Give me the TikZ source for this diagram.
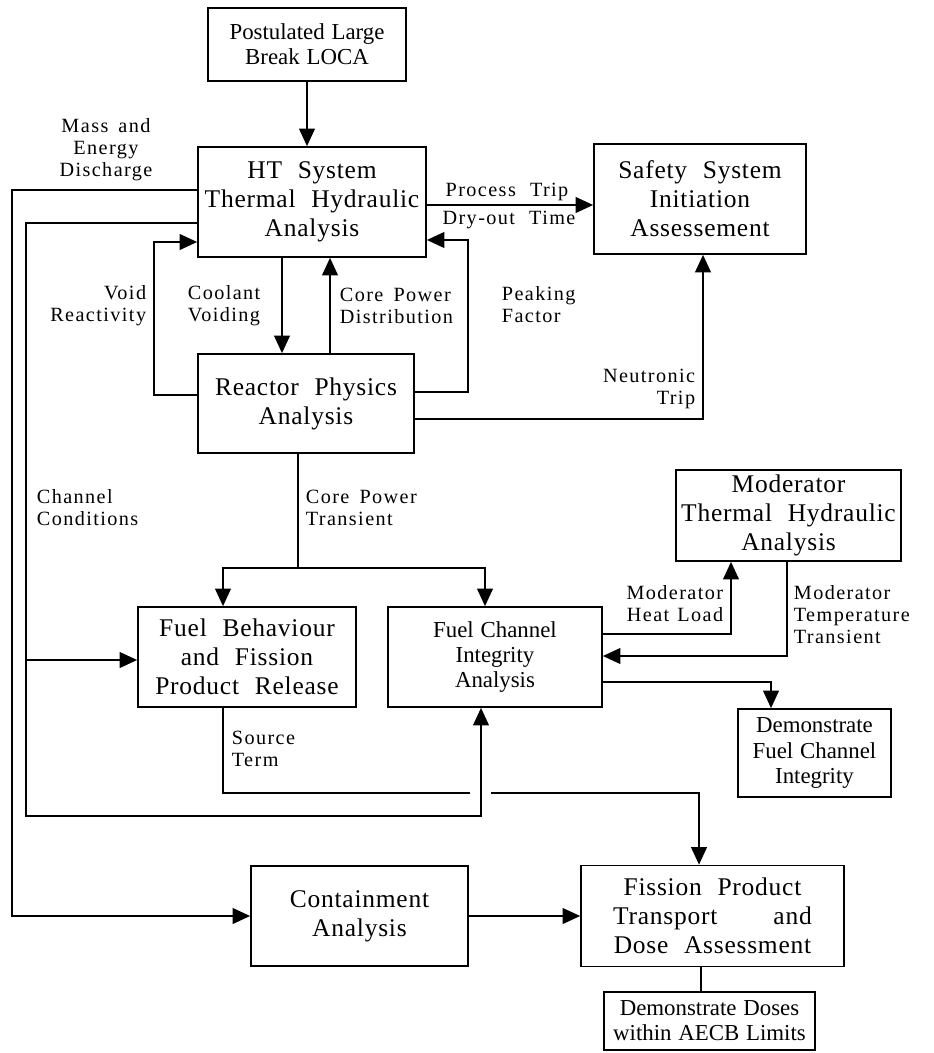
\documentclass[tikz,border=0pt]{standalone}
\usepackage{fontspec}
\setmainfont{Liberation Serif}
\newfontfamily\labfont[LetterSpace=7]{Liberation Serif}
\newfontfamily\bigfont[WordSpace=2.2,LetterSpace=3]{Liberation Serif}
\newfontfamily\midfont[WordSpace=1.2]{Liberation Serif}
\usetikzlibrary{arrows.meta}
\begin{document}
\begin{tikzpicture}[x=0.02cm,y=-0.02cm,line width=1pt,
  box/.style={draw,line width=1pt,inner sep=0pt,align=center},
  bigbox/.style={box,font=\bigfont\fontsize{14.5}{16.5}\selectfont},
  smallbox/.style={box,font=\midfont\fontsize{13}{14.3}\selectfont},
  lab/.style={inner sep=0pt,font=\labfont\fontsize{11.5}{12.5}\selectfont},
  arr/.style={-{Triangle[length=10pt,width=9pt]}}]
\useasboundingbox (0,0) rectangle (933,1053);
% boxes
\node[smallbox,minimum width=3.96cm,minimum height=1.46cm] (loca) at (307,44.5) {Postulated Large\\Break LOCA};
\node[bigbox,minimum width=4.56cm,minimum height=2.2cm] (ht) at (312,202) {HT System\\Thermal Hydraulic\\Analysis};
\node[bigbox,minimum width=4.24cm,minimum height=2.2cm] (safety) at (700,199) {Safety System\\Initiation\\Assessement};
\node[bigbox,minimum width=4.32cm,minimum height=1.98cm] (rp) at (306,403.5) {Reactor Physics\\Analysis};
\node[bigbox,minimum width=4.5cm,minimum height=1.82cm] (mod) at (788.5,515.5) {Moderator\\Thermal Hydraulic\\Analysis};
\node[bigbox,minimum width=4.36cm,minimum height=2.0cm] (fb) at (247,657) {Fuel Behaviour\\and Fission\\Product Release};
\node[smallbox,minimum width=4.28cm,minimum height=2.0cm] (fci) at (495,657) {Fuel Channel\\Integrity\\Analysis};
\node[smallbox,minimum width=3.06cm,minimum height=1.76cm] (dfc) at (814.5,753) {Demonstrate\\Fuel Channel\\Integrity};
\node[bigbox,minimum width=4.34cm,minimum height=2.0cm] (cont) at (359.5,916) {Containment\\Analysis};
\node[bigbox,minimum width=5.26cm,minimum height=2.02cm] (fp) at (712.5,916) {Fission Product\\Transport\hspace{2.2em}and\\Dose Assessment};
\node[smallbox,minimum width=4.22cm,minimum height=1.16cm] (dd) at (709.5,1021) {Demonstrate Doses\\within AECB Limits};
% helper coordinates
\coordinate (me) at (12,190);
\coordinate (me2) at (12,916);
\coordinate (cc) at (26,223);
\coordinate (cc2) at (26,816);
\coordinate (cc3) at (481,816);
\coordinate (ccb) at (26,660);
\coordinate (vr) at (154,395);
\coordinate (vr2) at (154,242);
\coordinate (cv) at (282,0);
\coordinate (cpd) at (330,0);
\coordinate (pf) at (468,392);
\coordinate (pf2) at (468,240);
\coordinate (pt) at (0,205);
\coordinate (nt) at (703,419);
\coordinate (cpt) at (298,568);
\coordinate (cptl) at (223,568);
\coordinate (cptr) at (485,568);
\coordinate (mh) at (731,634);
\coordinate (mt) at (787,656);
\coordinate (dd1) at (771,682);
\coordinate (st1) at (223,793);
\coordinate (st2) at (470,793);
\coordinate (st3) at (491,793);
\coordinate (st4) at (699,793);
\coordinate (fpd) at (701,0);
% connectors
\draw[arr] (loca.south) -- (loca.south |- ht.north);
\draw[arr] (ht.west |- me) -- (me) -- (me2) -- (cont.west);
\draw[arr] (ht.west |- cc) -- (cc) -- (cc2) -- (cc3) -- (cc3 |- fci.south);
\draw[arr] (ccb) -- (ccb -| fb.west);
\draw[arr] (rp.west |- vr) -- (vr) -- (vr2) -- (ht.west |- vr2);
\draw[arr] (ht.south -| cv) -- (rp.north -| cv);
\draw[arr] (rp.north -| cpd) -- (ht.south -| cpd);
\draw[arr] (rp.east |- pf) -- (pf) -- (pf2) -- (ht.east |- pf2);
\draw[arr] (ht.east |- pt) -- (safety.west |- pt);
\draw[arr] (rp.east |- nt) -- (nt) -- (safety.south -| nt);
\draw (rp.south -| cpt) -- (cpt);
\draw[arr] (cpt) -- (cptl) -- (fb.north -| cptl);
\draw[arr] (cpt) -- (cptr) -- (fci.north -| cptr);
\draw[arr] (fci.east |- mh) -- (mh) -- (mod.south -| mh);
\draw[arr] (mod.south -| mt) -- (mt) -- (fci.east |- mt);
\draw[arr] (fci.east |- dd1) -- (dd1) -- (dfc.north -| dd1);
\draw (fb.south -| st1) -- (st1) -- (st2);
\draw[arr] (st3) -- (st4) -- (fp.north -| st4);
\draw[arr] (cont.east) -- (fp.west);
\draw (fp.south -| fpd) -- (dd.north -| fpd);
% labels
\node[lab,align=center] (l1) at (106,150) {Mass\hspace{0.5em}and\\Energy\\Discharge};
\node[lab,align=right,anchor=east] (l2) at (147,306) {Void\\Reactivity};
\node[lab,align=left,anchor=west] (l3) at (187,306) {Coolant\\Voiding};
\node[lab,align=left,anchor=west] (l4) at (339,306) {Core\hspace{0.5em}Power\\Distribution};
\node[lab,align=left,anchor=west] (l5) at (501,305) {Peaking\\Factor};
\node[lab,anchor=base] (l6) at (507,197) {Process\hspace{0.7em}Trip};
\node[lab,anchor=base] (l7) at (509,225) {Dry-out\hspace{0.7em}Time};
\node[lab,align=right,anchor=east] (l8) at (696,389) {Neutronic\\Trip};
\node[lab,align=left,anchor=west] (l9) at (36,508) {Channel\\Conditions};
\node[lab,align=left,anchor=west] (l10) at (305,508) {Core\hspace{0.5em}Power\\Transient};
\node[lab,align=right,anchor=east] (l11) at (724,604) {Moderator\\Heat\hspace{0.4em}Load};
\node[lab,align=left,anchor=west] (l12) at (793,615) {Moderator\\Temperature\\Transient};
\node[lab,align=left,anchor=west] (l13) at (231,749) {Source\\Term};
\end{tikzpicture}
\end{document}
